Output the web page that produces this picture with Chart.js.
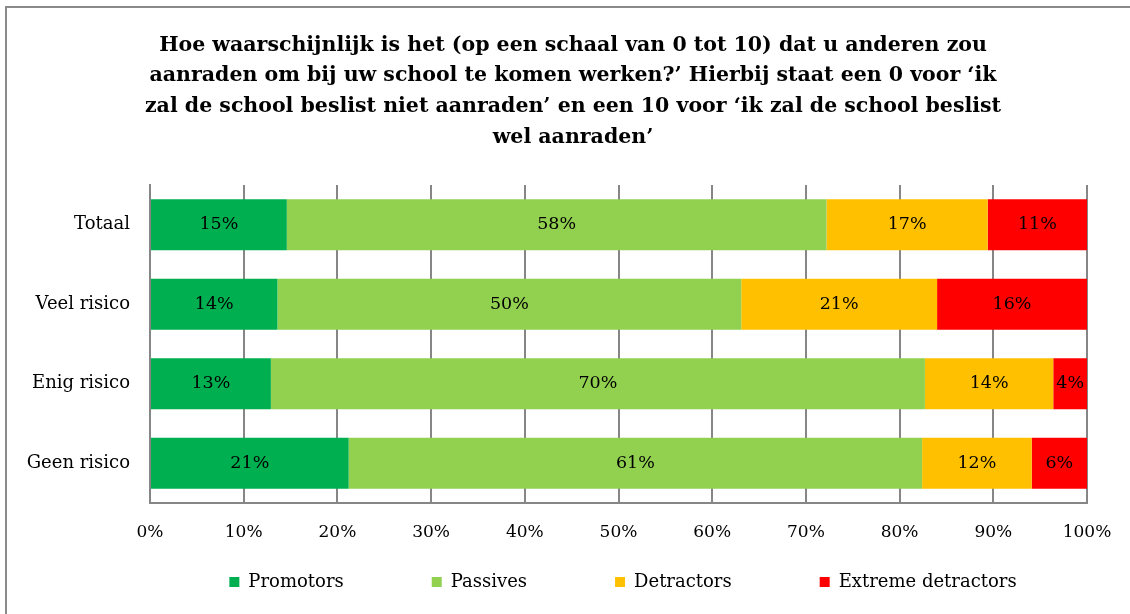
<!DOCTYPE html>
<html lang="nl">
  <head>
    <meta charset="UTF-8" />
    <script src="https://cdn.jsdelivr.net/npm/chart.js"></script>
    <title>Aanraden</title>
    <style>
      html, body { margin: 0; padding: 0; background: #fff; overflow: hidden; }
      .frame {
        position: absolute; left: 5px; top: 6px; width: 1200px; height: 700px;
        border-left: 2px solid #8a8a8a; border-top: 2px solid #8a8a8a;
      }
      #chartBox { position: absolute; left: 0; top: 0; width: 1150px; height: 614px; }
    </style>
  </head>
  <body>
    <div class="frame"></div>
    <div id="chartBox"><canvas id="npsChart" width="1150" height="614"></canvas></div>

    <script>
      const groepen = ["Totaal", "Veel risico", "Enig risico", "Geen risico"];
      const promotors = [14.6, 13.6, 12.9, 21.2];
      const passives = [57.6, 49.5, 69.8, 61.2];
      const detractors = [17.2, 20.9, 13.7, 11.7];
      const extremeDetractors = [10.6, 16.0, 3.6, 5.9];
      const procentTicks = ["0%", "10%", "20%", "30%", "40%", "50%", "60%", "70%", "80%", "90%", "100%"];
      const titel = [
        "Hoe waarschijnlijk is het (op een schaal van 0 tot 10) dat u anderen zou",
        "aanraden om bij uw school te komen werken?’ Hierbij staat een 0 voor ‘ik",
        "zal de school beslist niet aanraden’ en een 10 voor ‘ik zal de school beslist",
        "wel aanraden’"
      ];

      const grijs = "#868686";
      Chart.defaults.font.family = '"DejaVu Serif", serif';
      Chart.defaults.color = "#000";

      // percentages in het midden van elk segment
      const segmentLabels = {
        id: "segmentLabels",
        afterDatasetsDraw(chart) {
          const ctx = chart.ctx;
          ctx.save();
          ctx.font = '17.5px "DejaVu Serif", serif';
          ctx.fillStyle = "#000";
          ctx.textAlign = "center";
          ctx.textBaseline = "middle";
          chart.data.datasets.forEach((ds, i) => {
            chart.getDatasetMeta(i).data.forEach((bar, j) => {
              const p = bar.getCenterPoint();
              ctx.fillText(Math.round(ds.data[j]) + "%", p.x, p.y);
            });
          });
          ctx.restore();
        },
      };

      // legenda iets naar rechts en omhoog, zoals in het origineel
      const legendShift = {
        id: "legendShift",
        afterLayout(chart) {
          const lg = chart.legend;
          lg.left += 50; lg.right += 50;
          lg.top -= 58; lg.bottom = chart.height;
        },
      };

      new Chart(document.getElementById("npsChart"), {
        type: "bar",
        data: {
          labels: groepen,
          datasets: [
            { label: "Promotors", data: promotors, backgroundColor: "#00B050" },
            { label: "Passives", data: passives, backgroundColor: "#92D050" },
            { label: "Detractors", data: detractors, backgroundColor: "#FFC000" },
            { label: "Extreme detractors", data: extremeDetractors, backgroundColor: "#FF0000" },
          ],
        },
        options: {
          indexAxis: "y",
          responsive: false,
          animation: false,
          datasets: { bar: { borderWidth: 0, categoryPercentage: 0.64, barPercentage: 1 } },
          layout: { padding: { left: 0, right: 4, top: 0, bottom: 0 } },
          scales: {
            x: {
              stacked: true,
              min: 0,
              max: 100,
              ticks: {
                stepSize: 10,
                padding: 19,
                font: { size: 17 },
                callback: (value, index) => procentTicks[index],
              },
              grid: { color: grijs, lineWidth: 2, drawTicks: false },
              border: { color: grijs, width: 2 },
              afterFit: (scale) => { scale.height = 40; },
            },
            y: {
              stacked: true,
              ticks: { padding: 20, font: { size: 18 } },
              grid: { display: false, drawTicks: false },
              border: { color: grijs, width: 2 },
              afterFit: (scale) => { scale.width = 150; },
            },
            // lege rechterrand, zodat titel en plotvlak liggen zoals in het origineel
            rand: {
              type: "category",
              axis: "y",
              position: "right",
              ticks: { display: false },
              grid: { display: false, drawTicks: false },
              border: { display: false },
              afterFit: (scale) => { scale.width = 59; },
            },
          },
          plugins: {
            title: {
              display: true,
              text: titel,
              font: { size: 20.5, weight: "bold", lineHeight: 1.5 },
              color: "#000",
              padding: { top: 30, bottom: 32 },
            },
            legend: {
              position: "bottom",
              maxHeight: 71,
              labels: { boxWidth: 10, boxHeight: 10, padding: 88, font: { size: 18 } },
            },
            tooltip: { enabled: false },
          },
        },
        plugins: [segmentLabels, legendShift],
      });
    </script>
  </body>
</html>
